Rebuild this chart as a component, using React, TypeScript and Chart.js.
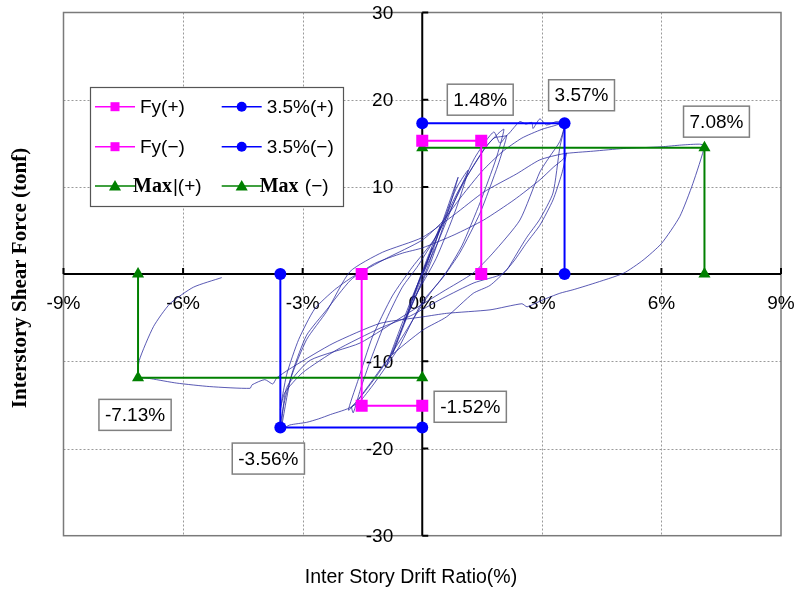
import React, { useEffect, useRef } from 'react';
import { Chart, registerables } from 'chart.js';

Chart.register(...registerables);

// ---------- axis ticks ----------
const xTickValues = [-9, -6, -3, 0, 3, 6, 9];
const xTickLabels = ['-9%', '-6%', '-3%', '0%', '3%', '6%', '9%'];
const yTickValues = [-30, -20, -10, 0, 10, 20, 30];
const yTickLabels = ['-30', '-20', '-10', '', '10', '20', '30'];

// ---------- marker series (drift %, force tonf) ----------
const fyPosDrift = [0, 1.48, 1.48];
const fyPosForce = [15.3, 15.3, 0];
const fyNegDrift = [-1.52, -1.52, 0];
const fyNegForce = [0, -15.1, -15.1];
const r35PosDrift = [0, 3.57, 3.57];
const r35PosForce = [17.3, 17.3, 0];
const r35NegDrift = [-3.56, -3.56, 0];
const r35NegForce = [0, -17.6, -17.6];
const maxPosDrift = [0, 7.08, 7.08];
const maxPosForce = [14.5, 14.5, 0];
const maxNegDrift = [-7.13, -7.13, 0];
const maxNegForce = [0, -11.9, -11.9];

const seriesNames = ['Fy(+)', 'Fy(\u2212)', '3.5%(+)', '3.5%(\u2212)', 'Max|(+)', 'Max (\u2212)'];

// ---------- hysteresis record (drift %, force tonf) ----------
const hystDrift = [
  0, 0.25, 0.05, -0.25, -0.05, 0.45, 0.15, -0.45, -0.1,
  0.35, 0.7, 0.9, 0.6, 0.2, -0.3, -0.6, -0.75, -0.45, -0.05,
  0.4, 0.85, 1.15, 0.85, 0.35, -0.2, -0.6, -0.9, -0.6, -0.15,
  0.35, 0.85, 1.3, 1.6, 1.8, 1.95, 2.12, 1.9, 1.45, 0.95, 0.5, 0, -0.6, -1.2, -1.6, -1.77, -1.73, -1.55, -1.3, -0.9, -0.5, -0.1,
  0.5, 1.1, 1.6, 1.9, 2.05, 1.85, 1.45, 1.0, 0.6, 0.1, -0.5, -1.1, -1.6, -1.85, -1.62, -1.25, -0.75, -0.25,
  0.3, 0.9, 1.5, 1.8, 2.12, 2.3, 2.45, 2.6, 2.75, 2.78, 2.95, 3.12, 3.37, 3.57,
  3.45, 3.28, 2.95, 2.62, 2.3, 2.12, 1.7, 1.28, 0.61, 0.02, -0.81, -1.3, -1.77, -2.3, -2.6, -2.9, -3.32, -3.56,
  -3.45, -3.24, -2.9, -2.4, -1.8, -1.2, -0.5, 0,
  0.8, 1.54, 2.3, 2.95, 3.3, 3.54, 3.62,
  3.5, 3.28, 2.95, 2.62, 2.3, 2.0, 1.3, 0.5, -0.3, -1.06, -2.15, -3.0, -3.45, -3.56,
  -3.4, -3.1, -2.7, -2.2, -1.74, -0.9, 0,
  0.5, 1.0, 1.5, 2.0, 2.5, 3.0, 3.3, 3.57,
  3.45, 3.2, 2.95, 2.45, 1.77, 1.27, 0.52, -0.4, -1.56, -2.82, -3.4, -3.53,
  -3.3, -2.9, -2.4, -1.81, -1.0, 0,
  0.8, 1.54, 2.37, 2.95, 3.54, 4.29, 5.04, 6.0, 6.5, 6.96, 7.08,
  6.79, 6.46, 6.0, 5.54, 5.05, 4.28, 3.78, 3.45, 3.0, 2.63, 2.5, 1.7, 0.61, 0.02, -1.06,
  -2.24, -3.23, -3.65, -3.75, -3.95, -4.27, -4.32, -5.33, -6.16, -6.8, -7.0, -7.13,
  -7.1, -6.74, -6.33, -5.74, -5.03,
];
const hystForce = [
  0, 3, 0.3, -3, -0.3, 5.5, 1, -5.5, -1,
  4, 8.5, 11.1, 6.5, 1.2, -4, -7.5, -9.2, -5.5, -0.5,
  4.5, 9.8, 11.9, 7.5, 1.8, -2.8, -7.2, -10.5, -6.8, -1.5,
  3.2, 8.8, 13.2, 15.3, 16.3, 15.0, 15.9, 12.5, 7, 2.5, -0.5, -3.2, -8.5, -12.5, -14.8, -15.2, -15.9, -13.2, -9.9, -5.2, -1.5, 1,
  5.5, 11, 14.6, 16.1, 16.6, 13.2, 8.2, 3.3, 0.2, -2.8, -7.2, -11.4, -14.4, -15.6, -12.3, -7.2, -2.5, 0.8,
  4, 9.5, 14, 15.6, 15.9, 16.8, 17.5, 17.2, 17.4, 16.7, 17.8, 17.1, 17.5, 17.3,
  14.5, 9.3, 6.3, 4.2, 1.8, 0.5, -1.3, -2.2, -4.9, -6.4, -9.5, -12.5, -15.2, -16.1, -16.6, -17.0, -17.3, -17.8,
  -14.5, -11, -7, -4.1, -0.7, 1.2, 2.4, 3,
  4.5, 6.2, 8.5, 10.8, 12.3, 13.2, 13.9,
  11.5, 8.5, 5.6, 3.6, 1.5, 0, -1, -2.8, -4.8, -6.2, -8.7, -11.3, -13.6, -15.5,
  -11.5, -7.5, -4, -1.8, -0.3, 1.8, 3.9,
  6, 9, 11.8, 14, 15.6, 16.6, 17.0, 17.3,
  15.2, 13.5, 11.7, 6.2, 2.4, 0.1, -2, -4.6, -7.9, -9.9, -13, -17.5,
  -12, -7.5, -4.3, 0.3, 2.5, 4.2,
  6.8, 9.4, 11.5, 13.1, 13.8, 14.1, 14.4, 14.6, 14.8, 14.9, 14.7,
  10.4, 6.6, 3.5, 1.6, 0.1, -1.1, -1.8, -2.2, -3.0, -3.75, -3.4, -4.1, -4.5, -4.9, -5.65,
  -7.95, -10.6, -11.9, -12.6, -12.1, -12.7, -13.1, -12.9, -12.5, -12.0, -11.9, -12.0,
  -9.9, -6.0, -3.4, -1.5, -0.4,
];

// ---------- styles ----------
const MAGENTA = '#ff00ff';
const BLUE = '#0000ff';
const GREEN = '#008000';
const SANS = '"Liberation Sans", Arial, sans-serif';
const SERIF = '"Liberation Serif", "Times New Roman", serif';

const pts = (xs: number[], ys: number[]) => xs.map((x, i) => ({ x, y: ys[i] }));

const fmtPct = (v: number) => `${v.toFixed(2)}%`;

// callout boxes anchored to marker points (offsets in px)
const callouts = [
  { x: fyPosDrift[1], y: fyPosForce[1], text: fmtPct(fyPosDrift[1]), dx: -1, dy: -41 },
  { x: r35PosDrift[1], y: r35PosForce[1], text: fmtPct(r35PosDrift[1]), dx: 17, dy: -28 },
  { x: maxPosDrift[1], y: maxPosForce[1], text: fmtPct(maxPosDrift[1]), dx: 12, dy: -26 },
  { x: maxNegDrift[1], y: maxNegForce[1], text: fmtPct(maxNegDrift[1]), dx: -3, dy: 37 },
  { x: r35NegDrift[1], y: r35NegForce[1], text: fmtPct(r35NegDrift[1]), dx: -12, dy: 31 },
  { x: fyNegDrift[2], y: fyNegForce[2], text: fmtPct(fyNegDrift[0]), dx: 48, dy: 1 },
];

function drawMarker(ctx: CanvasRenderingContext2D, style: string, x: number, y: number, s: number, color: string) {
  ctx.fillStyle = color;
  ctx.beginPath();
  if (style === 'rect') {
    ctx.rect(x - s / 2, y - s / 2, s, s);
  } else if (style === 'circle') {
    ctx.arc(x, y, s / 2, 0, Math.PI * 2);
  } else {
    ctx.moveTo(x, y - s * 0.55);
    ctx.lineTo(x + s * 0.55, y + s * 0.4);
    ctx.lineTo(x - s * 0.55, y + s * 0.4);
    ctx.closePath();
  }
  ctx.fill();
}

const overlayPlugin = {
  id: 'overlay',
  beforeDatasetsDraw(chart: any) {
    const { ctx, chartArea: a, scales } = chart;
    const xs = scales.x;
    const ys = scales.y;
    ctx.save();
    // dotted grid
    ctx.strokeStyle = '#9a9a9a';
    ctx.lineWidth = 1;
    ctx.setLineDash([2, 2]);
    xTickValues.forEach((v) => {
      if (v === 0 || v === xTickValues[0] || v === xTickValues[xTickValues.length - 1]) return;
      const px = Math.round(xs.getPixelForValue(v)) + 0.5;
      ctx.beginPath();
      ctx.moveTo(px, a.top);
      ctx.lineTo(px, a.bottom);
      ctx.stroke();
    });
    yTickValues.forEach((v) => {
      if (v === 0 || v === yTickValues[0] || v === yTickValues[yTickValues.length - 1]) return;
      const py = Math.round(ys.getPixelForValue(v)) + 0.5;
      ctx.beginPath();
      ctx.moveTo(a.left, py);
      ctx.lineTo(a.right, py);
      ctx.stroke();
    });
    ctx.setLineDash([]);
    // frame
    ctx.strokeStyle = '#7a7a7a';
    ctx.lineWidth = 1.5;
    ctx.strokeRect(a.left, a.top, a.right - a.left, a.bottom - a.top);
    // zero axes
    const x0 = xs.getPixelForValue(0);
    const y0 = ys.getPixelForValue(0);
    ctx.strokeStyle = '#000';
    ctx.lineWidth = 2;
    ctx.beginPath();
    ctx.moveTo(a.left, y0);
    ctx.lineTo(a.right, y0);
    ctx.moveTo(x0, a.top);
    ctx.lineTo(x0, a.bottom);
    ctx.stroke();
    // tick marks (inward)
    ctx.beginPath();
    xTickValues.forEach((v) => {
      if (v === 0) return;
      const px = xs.getPixelForValue(v);
      ctx.moveTo(px, y0);
      ctx.lineTo(px, y0 - 6);
    });
    yTickValues.forEach((v) => {
      if (v === 0) return;
      const py = ys.getPixelForValue(v);
      ctx.moveTo(x0, py);
      ctx.lineTo(x0 + 6, py);
    });
    ctx.stroke();
    // tick labels
    ctx.fillStyle = '#000';
    ctx.font = `19px ${SANS}`;
    ctx.textAlign = 'center';
    ctx.textBaseline = 'middle';
    xTickValues.forEach((v, i) => {
      ctx.fillText(xTickLabels[i], xs.getPixelForValue(v), y0 + 30);
    });
    ctx.textAlign = 'right';
    yTickValues.forEach((v, i) => {
      ctx.fillText(yTickLabels[i], x0 - 29, ys.getPixelForValue(v) + 1);
    });
    ctx.restore();
  },
  afterDatasetsDraw(chart: any) {
    const { ctx, scales } = chart;
    const xs = scales.x;
    const ys = scales.y;
    ctx.save();
    // callout boxes
    ctx.font = `19px ${SANS}`;
    ctx.textAlign = 'center';
    ctx.textBaseline = 'middle';
    callouts.forEach((c) => {
      const cx = xs.getPixelForValue(c.x) + c.dx;
      const cy = ys.getPixelForValue(c.y) + c.dy;
      const w = ctx.measureText(c.text).width + 12;
      const h = 31;
      ctx.fillStyle = '#fff';
      ctx.fillRect(cx - w / 2, cy - h / 2, w, h);
      ctx.strokeStyle = '#808080';
      ctx.lineWidth = 1.5;
      ctx.strokeRect(cx - w / 2, cy - h / 2, w, h);
      ctx.fillStyle = '#000';
      ctx.fillText(c.text, cx, cy + 1);
    });

    // legend
    const lx = 90, ly = 87, lw = 253, lh = 119;
    ctx.fillStyle = '#fff';
    ctx.fillRect(lx, ly, lw, lh);
    ctx.strokeStyle = '#555';
    ctx.lineWidth = 1.2;
    ctx.strokeRect(lx + 0.5, ly + 0.5, lw, lh);
    const rows = [106.7, 146.7, 186];
    const cols = [95, 221.7];
    const items = [
      { name: seriesNames[0], color: MAGENTA, marker: 'rect', size: 9, r: 0, c: 0 },
      { name: seriesNames[2], color: BLUE, marker: 'circle', size: 10, r: 0, c: 1 },
      { name: seriesNames[1], color: MAGENTA, marker: 'rect', size: 9, r: 1, c: 0 },
      { name: seriesNames[3], color: BLUE, marker: 'circle', size: 10, r: 1, c: 1 },
      { name: seriesNames[4], color: GREEN, marker: 'triangle', size: 11, r: 2, c: 0 },
      { name: seriesNames[5], color: GREEN, marker: 'triangle', size: 11, r: 2, c: 1 },
    ];
    ctx.textAlign = 'left';
    ctx.textBaseline = 'middle';
    items.forEach((it) => {
      const x = cols[it.c];
      const y = rows[it.r];
      ctx.strokeStyle = it.color;
      ctx.lineWidth = 1.5;
      ctx.beginPath();
      ctx.moveTo(x, y);
      ctx.lineTo(x + 40, y);
      ctx.stroke();
      drawMarker(ctx, it.marker, x + 20, y, it.size, it.color);
      ctx.fillStyle = '#000';
      if (it.name.startsWith('Max')) {
        ctx.font = `bold 20px ${SERIF}`;
        const tx = x + 38;
        ctx.fillText('Max', tx, y + 1);
        const mw = ctx.measureText('Max').width;
        ctx.font = `19px ${SANS}`;
        ctx.fillText(it.name.slice(3), tx + mw + 1, y + 1);
      } else {
        ctx.font = `19px ${SANS}`;
        ctx.fillText(it.name, x + 45, y + 1);
      }
    });

    // axis titles
    ctx.fillStyle = '#000';
    ctx.font = `19.5px ${SANS}`;
    ctx.textAlign = 'center';
    ctx.textBaseline = 'alphabetic';
    ctx.fillText('Inter Story Drift Ratio(%)', 411, 583);
    ctx.save();
    ctx.translate(26, 278);
    ctx.rotate(-Math.PI / 2);
    ctx.font = `bold 21px ${SERIF}`;
    ctx.fillText('Interstory Shear Force (tonf)', 0, 0);
    ctx.restore();
    ctx.restore();
  },
};

export default function App() {
  const ref = useRef<HTMLCanvasElement>(null);
  useEffect(() => {
    if (!ref.current) return;
    const mkSeries = (label: string, xs: number[], ys: number[], color: string, style: string, radius: number) => ({
      label,
      data: pts(xs, ys),
      showLine: true,
      borderColor: color,
      backgroundColor: color,
      borderWidth: 2,
      pointStyle: style,
      pointRadius: radius,
      pointBorderWidth: 0,
      pointBackgroundColor: color,
      order: 1,
    });
    const chart = new Chart(ref.current, {
      type: 'scatter',
      data: {
        datasets: [
          mkSeries(seriesNames[0], fyPosDrift, fyPosForce, MAGENTA, 'rect', 8.5),
          mkSeries(seriesNames[1], fyNegDrift, fyNegForce, MAGENTA, 'rect', 8.5),
          mkSeries(seriesNames[2], r35PosDrift, r35PosForce, BLUE, 'circle', 6),
          mkSeries(seriesNames[3], r35NegDrift, r35NegForce, BLUE, 'circle', 6),
          mkSeries(seriesNames[4], maxPosDrift, maxPosForce, GREEN, 'triangle', 7),
          mkSeries(seriesNames[5], maxNegDrift, maxNegForce, GREEN, 'triangle', 7),
          {
            label: 'record',
            data: pts(hystDrift, hystForce),
            showLine: true,
            borderColor: 'rgba(35,35,155,0.75)',
            borderWidth: 1,
            pointRadius: 0,
            tension: 0.2,
            order: 10,
          } as any,
        ],
      },
      options: {
        animation: false,
        responsive: false,
        devicePixelRatio: 1,
        layout: { padding: { left: 63.5, top: 12.5, right: 14, bottom: 54.3 } },
        plugins: { legend: { display: false }, tooltip: { enabled: false } },
        scales: {
          x: { type: 'linear', min: -9, max: 9, display: false, ticks: { stepSize: 3 } },
          y: { type: 'linear', min: -30, max: 30, display: false, ticks: { stepSize: 10 } },
        },
      } as any,
      plugins: [overlayPlugin],
    });
    return () => chart.destroy();
  }, []);
  return (
    <div style={{ position: 'fixed', left: 0, top: 0, width: 795, height: 590, background: '#fff' }}>
      <canvas ref={ref} width={795} height={590} style={{ display: 'block', width: 795, height: 590 }} />
    </div>
  );
}
